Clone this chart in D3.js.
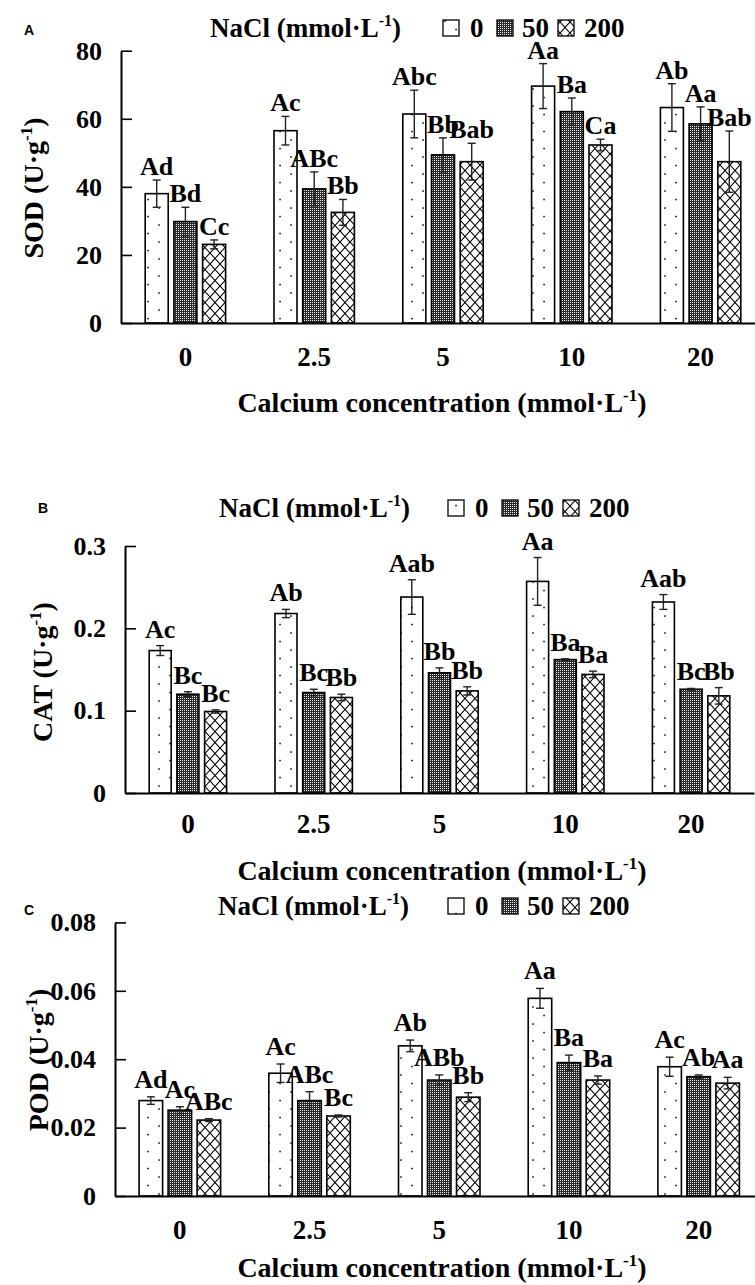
<!DOCTYPE html>
<html><head><meta charset="utf-8">
<script src="https://cdn.jsdelivr.net/npm/d3@7/dist/d3.min.js"></script>
<style>
body{margin:0;background:#fff}
svg{display:block}
text{font-family:"Liberation Serif","Times New Roman",serif;font-weight:bold;fill:#000}
</style>
</head><body>
<svg id="chart" width="755" height="1285"></svg>
<script>
// ---------- data ----------
const categories = ["0", "2.5", "5", "10", "20"];
const series = ["0", "50", "200"];

const sod0 = [38.0, 56.5, 61.4, 69.6, 63.3];
const sod50 = [29.8, 39.4, 49.4, 62.1, 58.5];
const sod200 = [23.1, 32.5, 47.4, 52.3, 47.4];
const sodErr0 = [4.0, 4.2, 7.0, 6.6, 7.0];
const sodErr50 = [4.2, 5.0, 5.0, 4.0, 5.0];
const sodErr200 = [1.3, 3.8, 5.4, 1.7, 9.0];
const sodLetters0 = ["Ad", "Ac", "Abc", "Aa", "Ab"];
const sodLetters50 = ["Bd", "ABc", "Bb", "Ba", "Aa"];
const sodLetters200 = ["Cc", "Bb", "Bab", "Ca", "Bab"];
const sodTicks = [0, 20, 40, 60, 80];
const sodTickLabels = ["0", "20", "40", "60", "80"];

const cat0 = [0.173, 0.218, 0.238, 0.257, 0.232];
const cat50 = [0.120, 0.122, 0.146, 0.162, 0.126];
const cat200 = [0.099, 0.116, 0.124, 0.144, 0.118];
const catErr0 = [0.006, 0.005, 0.021, 0.029, 0.009];
const catErr50 = [0.003, 0.004, 0.006, 0.001, 0.001];
const catErr200 = [0.002, 0.004, 0.005, 0.004, 0.010];
const catLetters0 = ["Ac", "Ab", "Aab", "Aa", "Aab"];
const catLetters50 = ["Bc", "Bc", "Bb", "Ba", "Bc"];
const catLetters200 = ["Bc", "Bb", "Bb", "Ba", "Bb"];
const catTicks = [0, 0.1, 0.2, 0.3];
const catTickLabels = ["0", "0.1", "0.2", "0.3"];

const pod0 = [0.0279, 0.0359, 0.0439, 0.0578, 0.0378];
const pod50 = [0.0251, 0.0279, 0.0339, 0.0390, 0.0349];
const pod200 = [0.0222, 0.0234, 0.0289, 0.0339, 0.0330];
const podErr0 = [0.0011, 0.0027, 0.0017, 0.0029, 0.0028];
const podErr50 = [0.0010, 0.0026, 0.0015, 0.0022, 0.0005];
const podErr200 = [0.0004, 0.0003, 0.0013, 0.0012, 0.0017];
const podLetters0 = ["Ad", "Ac", "Ab", "Aa", "Ac"];
const podLetters50 = ["Ac", "ABc", "ABb", "Ba", "Ab"];
const podLetters200 = ["ABc", "Bc", "Bb", "Ba", "Aa"];
const podTicks = [0, 0.02, 0.04, 0.06, 0.08];
const podTickLabels = ["0", "0.02", "0.04", "0.06", "0.08"];

const panelLetters = ["A", "B", "C"];
const yTitles = ["SOD (U·g", "CAT (U·g", "POD (U·g"];
const xTitle = "Calcium concentration (mmol·L";
const legendTitle = "NaCl (mmol·L";

// ---------- layout ----------
const panels = [
  {means:[sod0,sod50,sod200], errs:[sodErr0,sodErr50,sodErr200], letters:[sodLetters0,sodLetters50,sodLetters200],
   ticks:sodTicks, tickLabels:sodTickLabels, max:80,
   x0:121, x1:765, yTop:50.7, yBase:323, barStep:28.7, barW:23, xPad:24, xTitleY:412,
   ylabX:43, ylabY:188, legTitleX:210, legBoxX:443, legY:28, letX:24, letY:35, gap:5},
  {means:[cat0,cat50,cat200], errs:[catErr0,catErr50,catErr200], letters:[catLetters0,catLetters50,catLetters200],
   ticks:catTicks, tickLabels:catTickLabels, max:0.3,
   x0:125, x1:754, yTop:546, yBase:793, barStep:27.7, barW:22, xPad:21, xTitleY:880,
   ylabX:52, ylabY:672, legTitleX:219, legBoxX:448, legY:508, letX:38, letY:513, gap:8},
  {means:[pod0,pod50,pod200], errs:[podErr0,podErr50,podErr200], letters:[podLetters0,podLetters50,podLetters200],
   ticks:podTicks, tickLabels:podTickLabels, max:0.08,
   x0:115, x1:763.5, yTop:922.4, yBase:1196, barStep:29, barW:23.5, xPad:24, xTitleY:1277,
   ylabX:48, ylabY:1060, legTitleX:218, legBoxX:448, legY:906, letX:24, letY:915, gap:9}
];

const svg = d3.select("#chart");
svg.append("rect").attr("width",755).attr("height",1285).attr("fill","#fff");

// ---------- patterns ----------
const defs = svg.append("defs");
const pDots = defs.append("pattern").attr("id","pat0").attr("patternUnits","userSpaceOnUse").attr("width",22).attr("height",17);
pDots.append("rect").attr("width",22).attr("height",17).attr("fill","#fff");
pDots.append("rect").attr("x",4.3).attr("y",3.3).attr("width",1.5).attr("height",1.5).attr("fill","#000");
pDots.append("rect").attr("x",15.3).attr("y",11.8).attr("width",1.5).attr("height",1.5).attr("fill","#000");

const pDark = defs.append("pattern").attr("id","pat1").attr("patternUnits","userSpaceOnUse").attr("width",2).attr("height",2);
pDark.append("rect").attr("width",2).attr("height",2).attr("fill","#2a2a2a");
pDark.append("rect").attr("x",0).attr("y",0).attr("width",1).attr("height",1).attr("fill","#eee");

const pCross = defs.append("pattern").attr("id","pat2").attr("patternUnits","userSpaceOnUse").attr("width",10).attr("height",11);
pCross.append("rect").attr("width",10).attr("height",11).attr("fill","#fff");
pCross.append("path").attr("d","M0,0L10,11M10,0L0,11M-5,5.5L0,0M10,11L15,5.5").attr("stroke","#000").attr("stroke-width",1.1);

const fills = ["url(#pat0)","url(#pat1)","url(#pat2)"];

function supText(sel, main, sup, tail, supSize) {
  sel.append("tspan").text(main);
  sel.append("tspan").attr("font-size", supSize).attr("dy", -11).text(sup);
  sel.append("tspan").attr("dy", 11).text(tail);
}

panels.forEach((p, pi) => {
  const g = svg.append("g");
  const x = d3.scaleBand().domain(categories).range([p.x0, p.x1]);
  const inner = d3.scaleBand().domain(series)
    .range([-1.5 * p.barStep, 1.5 * p.barStep])
    .paddingInner(1 - p.barW / p.barStep).paddingOuter((1 - p.barW / p.barStep) / 2);
  const y = d3.scaleLinear().domain([0, p.max]).range([p.yBase, p.yTop]);

  // bars
  series.forEach((s, si) => {
    categories.forEach((c, ci) => {
      const m = p.means[si][ci], e = p.errs[si][ci];
      const bx = x(c) + x.bandwidth() / 2 + inner(s);
      const cx = bx + inner.bandwidth() / 2;
      g.append("rect").attr("x", bx).attr("y", y(m)).attr("width", inner.bandwidth())
        .attr("height", y(0) - y(m)).attr("fill", fills[si]).attr("stroke", "#000").attr("stroke-width", 1.6);
      const eg = g.append("g").attr("stroke", "#222").attr("stroke-width", 1.4);
      eg.append("line").attr("x1", cx).attr("x2", cx).attr("y1", y(m + e)).attr("y2", y(m - e));
      eg.append("line").attr("x1", cx - 4).attr("x2", cx + 4).attr("y1", y(m + e)).attr("y2", y(m + e));
      eg.append("line").attr("x1", cx - 4).attr("x2", cx + 4).attr("y1", y(m - e)).attr("y2", y(m - e));
      g.append("text").attr("x", cx).attr("y", y(m + e) - p.gap).attr("text-anchor", "middle")
        .attr("font-size", 26).text(p.letters[si][ci]);
    });
  });

  // y axis
  const ya = d3.axisLeft(y).tickValues(p.ticks).tickSize(-11).tickSizeOuter(0).tickPadding(19)
    .tickFormat((d, i) => p.tickLabels[i]);
  const yg = g.append("g").attr("transform", `translate(${p.x0},0)`).call(ya);
  yg.select(".domain").attr("stroke", "#000").attr("stroke-width", 2);
  yg.selectAll(".tick line").attr("stroke", "#000").attr("stroke-width", 1.6);
  yg.selectAll(".tick text").attr("font-size", 26).attr("font-family", "Liberation Serif").attr("font-weight", "bold").attr("fill", "#000");

  // x axis
  const xa = d3.axisBottom(x).tickSize(0).tickPadding(p.xPad);
  const xg = g.append("g").attr("transform", `translate(0,${p.yBase})`).call(xa);
  xg.select(".domain").attr("stroke", "#000").attr("stroke-width", 2);
  xg.selectAll(".tick text").attr("font-size", 27).attr("font-family", "Liberation Serif").attr("font-weight", "bold").attr("fill", "#000");

  // x title
  const xt = g.append("text").attr("x", 442).attr("y", p.xTitleY).attr("text-anchor", "middle").attr("font-size", 28);
  supText(xt, xTitle, "-1", ")", 17);

  // y title
  const yt = g.append("text").attr("transform", `translate(${p.ylabX},${p.ylabY}) rotate(-90)`)
    .attr("text-anchor", "middle").attr("font-size", 28);
  supText(yt, yTitles[pi], "-1", ")", 17);

  // legend
  const lt = g.append("text").attr("x", p.legTitleX).attr("y", p.legY + 9).attr("font-size", 27);
  supText(lt, legendTitle, "-1", ")", 16);
  const boxOff = [0, 54, 115], txtOff = [27, 79, 141];
  series.forEach((s, si) => {
    g.append("rect").attr("x", p.legBoxX + boxOff[si]).attr("y", p.legY - 8).attr("width", 16).attr("height", 16)
      .attr("fill", fills[si]).attr("stroke", "#000").attr("stroke-width", 1.3);
    g.append("text").attr("x", p.legBoxX + txtOff[si]).attr("y", p.legY + 9).attr("font-size", 27).text(s);
  });

  // panel letter
  g.append("text").attr("x", p.letX).attr("y", p.letY).attr("font-size", 14)
    .style("font-family", "'Liberation Sans', Arial, sans-serif").text(panelLetters[pi]);
});
</script>
</body></html>
